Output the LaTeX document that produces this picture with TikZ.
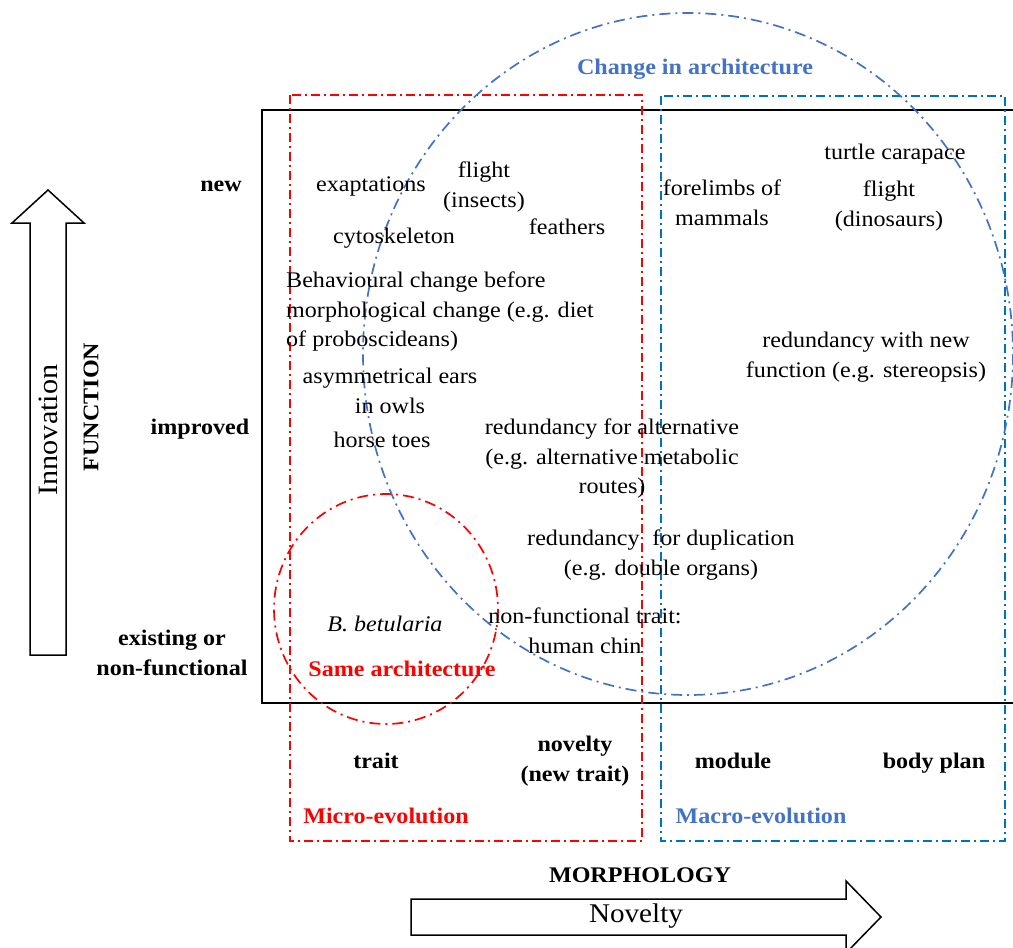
\documentclass[tikz,border=0pt]{standalone}
\usepackage{fontspec}
\setmainfont{Liberation Serif}[FakeStretch=1.08]
\definecolor{archblue}{HTML}{4472C4}
\definecolor{macroblue}{HTML}{0070C0}
\definecolor{microred}{HTML}{FF0000}
\begin{document}
\begin{tikzpicture}[x=1pt,y=-1pt,
  txt/.style={font=\fontsize{22.3}{29.5}\selectfont, align=center, inner sep=0pt},
  lbl/.style={font=\fontsize{22.3}{29.5}\selectfont\bfseries, align=center, inner sep=0pt},
  big/.style={font=\fontsize{27}{32}\selectfont, inner sep=0pt},
  ddot/.style={dash pattern=on 9pt off 4pt on 2pt off 4pt, line width=1.7pt},
  ldot/.style={dash pattern=on 11pt off 5pt on 2pt off 5pt, line width=1.7pt},
  hollow/.style={draw=black, line width=1.5pt, fill=white, line join=miter}]
\useasboundingbox (0,0) rectangle (1013,948);

% main frame of the function/morphology plane
\draw[line width=2pt] (262,110) rectangle (1016,703);

% micro- and macro-evolution regions
\draw[microred, ddot] (290,95) rectangle (642,841);
\draw[macroblue, ddot] (661,96) rectangle (1005,841);

% architecture ellipses
\draw[archblue, ldot] (688,354) ellipse [x radius=325, y radius=341];
\draw[microred, ldot] (386,609) ellipse [x radius=112, y radius=115];

% axis arrows
\draw[hollow] (30,655) -- (30,223) -- (12,223) -- (48,190) -- (84,223) -- (66,223) -- (66,655) -- cycle;
\draw[hollow] (411,899) -- (846,899) -- (846,881) -- (881,917) -- (846,953) -- (846,935) -- (411,935) -- cycle;

\node[big, font=\fontsize{28}{32}\selectfont, rotate=90] (innov) at (48,430) {Innovation};
\node[lbl, rotate=90] (func) at (91,407) {FUNCTION};
\node[lbl] (morph) at (640,875) {MORPHOLOGY};
\node[big] (novel) at (636,916) {Novelty};

% function levels
\node[lbl] (fnew) at (221,186) {new};
\node[lbl] (fimp) at (200,429) {improved};
\node[lbl] (fexist) at (172,653) {existing or\\non-functional};

% morphology levels
\node[lbl] (mtrait) at (376,761) {trait};
\node[lbl] (mnovel) at (575,761) {novelty\\(new trait)};
\node[lbl] (mmod) at (733,761) {module};
\node[lbl] (mbody) at (934,763) {body plan};

% region captions
\node[lbl, text=archblue] (carch) at (695,69) {Change in architecture};
\node[lbl, text=microred] (csame) at (402,669) {Same architecture};
\node[lbl, text=microred] (cmicro) at (386,816) {Micro-evolution};
\node[lbl, text=archblue] (cmacro) at (761,816) {Macro-evolution};

% examples
\node[txt] (exapt) at (371,186) {exaptations};
\node[txt] (flighti) at (484,187) {flight\\(insects)};
\node[txt] (feath) at (567,227) {feathers};
\node[txt] (cyto) at (394,238) {cytoskeleton};
\node[txt, align=left, anchor=west] (behav) at (286,312) {Behavioural change before\\morphological change (e.g. diet\\of proboscideans)};
\node[txt] (owls) at (390,391) {asymmetrical ears\\in owls};
\node[txt] (horse) at (382,440) {horse toes};
\node[txt] (redalt) at (612,459) {redundancy for alternative\\(e.g. alternative metabolic\\routes)};
\node[txt] (reddup) at (661,555) {redundancy\hspace{0.3em} for duplication\\(e.g. double organs)};
\node[txt, font=\fontsize{22.3}{29.5}\selectfont\itshape] (betul) at (385,624) {B. betularia};
\node[txt] (chin) at (585,631) {non-functional trait:\\human chin};
\node[txt] (fore) at (722,203) {forelimbs of\\mammals};
\node[txt] (turtle) at (895,154) {turtle carapace};
\node[txt] (flightd) at (889,206) {flight\\(dinosaurs)};
\node[txt] (redste) at (866,357) {redundancy with new\\function (e.g. stereopsis)};
\end{tikzpicture}
\end{document}
